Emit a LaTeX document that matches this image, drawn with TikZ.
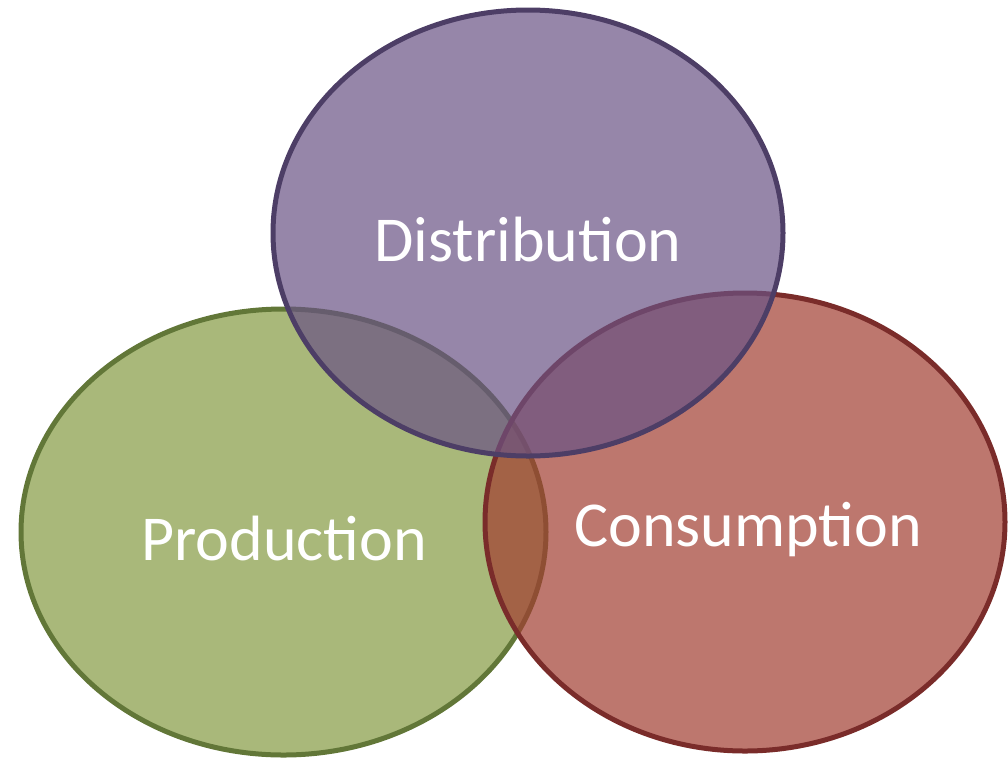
\documentclass[tikz,border=0pt]{standalone}
\usepackage{fontspec}
\setmainfont{Carlito}
\usepackage{xcolor}
\usetikzlibrary{positioning}
\definecolor{prodFill}{RGB}{132,154,65}
\definecolor{prodLine}{RGB}{98,119,56}
\definecolor{consFill}{RGB}{161,61,49}
\definecolor{consLine}{RGB}{122,44,42}
\definecolor{distFill}{RGB}{105,82,132}
\definecolor{distLine}{RGB}{77,62,102}

\begin{document}
\begin{tikzpicture}[x=1pt,y=-1pt,every node/.style={text=white,font=\fontsize{64}{74}\selectfont}]

\useasboundingbox (0,0) rectangle (1008,758);

% the three sets, bottom one first
\def\sets{%
283.5/532/262.5/223/prodFill/prodLine,
745/522/260/229/consFill/consLine,
528/233/255/223/distFill/distLine}

\foreach \cx/\cy/\rx/\ry/\fcol/\lcol in \sets
\filldraw[fill=\fcol, fill opacity=0.7, draw=\lcol, line width=5pt]
(\cx,\cy) ellipse [x radius=\rx, y radius=\ry];

% the labels
\node (dist) at (528,240) {Distribution};
\node (prod) at (284,539) {Production};
\node (cons) at (748,530) {Consumption};

\end{tikzpicture}
\end{document}
